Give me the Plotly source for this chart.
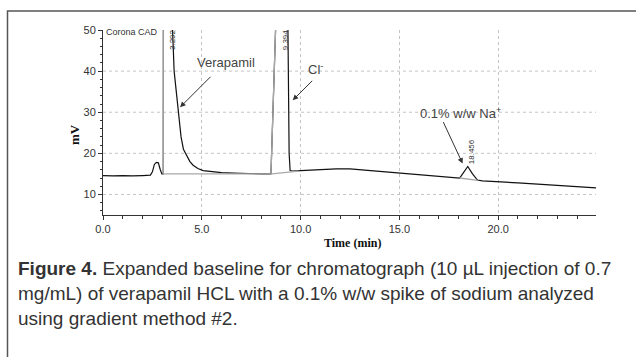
import plotly.graph_objects as go

# ---- data ----
sig_t = [0.0, 0.5, 1.0, 1.5, 2.0, 2.4, 2.5, 2.6, 2.7, 2.8, 2.9, 2.98, 3.05,
         3.06, 3.3, 3.45, 3.52, 3.6, 3.72, 3.82, 3.95, 4.07, 4.23, 4.4,
         4.56, 4.8, 5.07, 5.5, 6.0, 6.6, 7.0, 7.5, 8.0, 8.5, 8.8,
         9.1, 9.34, 9.38, 9.42, 9.47, 9.6, 10.0, 10.5, 11.0, 11.8, 12.5, 13.0,
         13.5, 14.0, 15.0, 16.0, 17.0, 17.7, 18.05, 18.2, 18.46, 18.7, 18.95,
         19.2, 20.0, 21.0, 22.0, 23.0, 24.0, 25.0]
sig_mv = [14.6, 14.5, 14.6, 14.5, 14.6, 14.7, 15.5, 17.3, 17.8, 17.7, 16.0, 15.0, 15.0,
          60.0, 90.0, 60.0, 50.0, 40.0, 34.0, 29.0, 24.0, 21.0, 19.4, 18.0,
          17.1, 16.3, 15.8, 15.5, 15.3, 15.2, 15.1, 15.0, 15.0, 15.0, 60.0,
          90.0, 60.0, 40.0, 20.0, 15.8, 15.7, 15.8, 15.9, 16.1, 16.2, 16.2, 16.0,
          15.8, 15.6, 15.2, 14.8, 14.4, 14.1, 14.0, 15.0, 16.8, 15.0, 13.5,
          13.3, 13.0, 12.8, 12.5, 12.2, 11.9, 11.6]

# integration baseline / peak delimiters (gray)
base_t = [3.05, 3.05, 8.5, 8.8, None, 8.55, 9.9, None, 18.05, 18.95]
base_mv = [60.0, 15.0, 15.0, 60.0, None, 15.0, 15.65, None, 14.0, 13.4]

peak_t = [3.55, 9.23, 18.63]
peak_lbl = ["3.292", "9.394", "18.456"]
peak_y = [47.6, 47.6, 20.3]

x_ticks = [0, 5, 10, 15, 20]
x_tick_lbl = ["0.0", "5.0", "10.0", "15.0", "20.0"]
y_ticks = [10, 20, 30, 40, 50]
y_grid = [10, 20, 30, 40]

caption = [
    "<b>Figure 4.</b> Expanded baseline for chromatograph (10 µL injection of 0.7",
    "mg/mL) of verapamil HCL with a 0.1% w/w spike of sodium analyzed",
    "using gradient method #2.",
]

fig = go.Figure()
fig.add_trace(go.Scatter(x=sig_t, y=sig_mv, mode="lines",
                         line=dict(color="#111111", width=1.2), hoverinfo="skip"))
fig.add_trace(go.Scatter(x=base_t, y=base_mv, mode="lines", connectgaps=False,
                         line=dict(color="#a8a8a8", width=1.3), hoverinfo="skip"))

shapes = []
for g in y_grid:
    shapes.append(dict(type="line", xref="paper", x0=0, x1=1, yref="y", y0=g, y1=g,
                       line=dict(color="#c4c4c4", width=1, dash="3px,3px"), layer="below"))
# outer frame
shapes.append(dict(type="rect", xref="paper", yref="paper",
                   x0=(7.5 - 103) / 493, x1=(645 - 103) / 493,
                   y0=(185 - 370) / 185, y1=(185 + 19) / 185,
                   line=dict(color="#555555", width=1.5), fillcolor="rgba(0,0,0,0)"))

ann = []
tick_font = dict(family="Liberation Sans, Arial, sans-serif", size=11, color="#333333")
for t, l, yv in zip(peak_t, peak_lbl, peak_y):
    ann.append(dict(x=t, y=yv, text=l, showarrow=False, textangle=-90,
                    font=dict(family="Liberation Sans, Arial", size=8, color="#333333")))
ann.append(dict(x=0.05, y=49.5, text="Corona CAD", showarrow=False, xanchor="left",
                font=dict(family="Liberation Sans, Arial", size=9, color="#333333")))
lbl_font = dict(family="Liberation Sans, Arial", size=13, color="#444444")
ann.append(dict(x=6.2, y=42.1, text="Verapamil", showarrow=False, font=lbl_font))
ann.append(dict(x=10.75, y=40.4, text="Cl<sup>-</sup>", showarrow=False, font=lbl_font))
ann.append(dict(x=18.1, y=29.8, text="0.1% w/w Na<sup>+</sup>", showarrow=False, font=lbl_font))
arrow = dict(showarrow=True, arrowhead=2, arrowsize=1.1, arrowwidth=1, arrowcolor="#333333",
             axref="pixel", ayref="pixel", text="")
ann.append(dict(x=3.9, y=31.2, ax=32, ay=-32, **arrow))
ann.append(dict(x=9.6, y=32.9, ax=21, ay=-21, **arrow))
ann.append(dict(x=18.2, y=17.5, ax=-20, ay=-43, **arrow))
# axis titles
ann.append(dict(xref="paper", yref="paper", x=(352 - 103) / 493, y=(215 - 243) / 185,
                xanchor="center", yanchor="middle",
                text="<b>Time (min)</b>", showarrow=False,
                font=dict(family="Liberation Serif, Times New Roman, serif", size=12, color="#111111")))
ann.append(dict(xref="paper", yref="paper", x=(74 - 103) / 493, y=(215 - 135) / 185,
                xanchor="center", yanchor="middle",
                text="<b>mV</b>", showarrow=False, textangle=-90,
                font=dict(family="Liberation Serif, Times New Roman, serif", size=13, color="#111111")))
# caption
cap_y = [268, 293, 318]
for line, py in zip(caption, cap_y):
    ann.append(dict(xref="paper", yref="paper", x=(16 - 103) / 493, y=(215 - py) / 185,
                    xanchor="left", yanchor="middle", text=line, showarrow=False,
                    font=dict(family="Liberation Sans, Arial, sans-serif",
                              size=19, color="#333333")))

fig.update_layout(
    width=636, height=357, margin=dict(l=103, r=40, t=30, b=142),
    paper_bgcolor="white", plot_bgcolor="white", showlegend=False,
    shapes=shapes, annotations=ann,
    xaxis=dict(range=[0, 24.95], tickvals=x_ticks, ticktext=x_tick_lbl,
               showgrid=True, gridcolor="#c4c4c4", griddash="3px,3px", gridwidth=1,
               showline=True, linecolor="#333333", linewidth=1, zeroline=False,
               ticks="outside", ticklen=4, tickcolor="#333333", tickfont=tick_font,
               minor=dict(dtick=1, ticks="outside", ticklen=3, tickcolor="#333333", showgrid=False)),
    yaxis=dict(range=[5, 50], tickvals=y_ticks, showgrid=False,
               showline=True, linecolor="#333333", linewidth=1, zeroline=False,
               ticks="outside", ticklen=4, tickcolor="#333333", tickfont=tick_font,
               minor=dict(dtick=2, ticks="outside", ticklen=2, tickcolor="#333333", showgrid=False)),
)
fig.write_html("out.html")
